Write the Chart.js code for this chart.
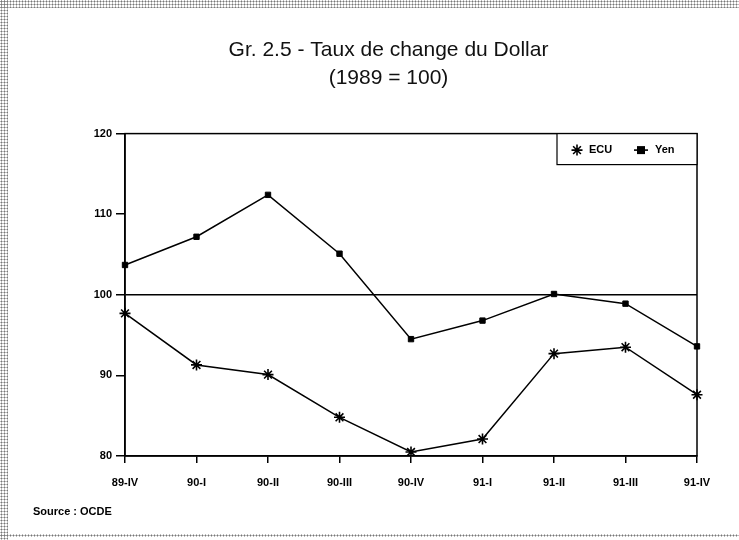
<!DOCTYPE html>
<html>
<head>
<meta charset="utf-8">
<script src="https://cdn.jsdelivr.net/npm/chart.js@4"></script>
<style>
  html, body { margin: 0; padding: 0; background: #fff; }
  body { width: 739px; height: 540px; position: relative; overflow: hidden; }
  .trame { position: absolute; background-image: radial-gradient(#777 0.9px, transparent 1.1px); background-size: 3px 3px; }
  #haut { left: 0; top: 0; width: 739px; height: 8px; }
  #gauche { left: 0; top: 0; width: 8px; height: 540px; }
  #bas { left: 0; top: 534px; width: 739px; height: 3px; }
  canvas { position: absolute; left: 0; top: 0; }
</style>
</head>
<body>
<div class="trame" id="haut"></div>
<div class="trame" id="gauche"></div>
<div class="trame" id="bas"></div>
<canvas id="graphique" width="739" height="540"></canvas>
<script>
// donnees
const trimestres = ['89-IV', '90-I', '90-II', '90-III', '90-IV', '91-I', '91-II', '91-III', '91-IV'];
const ecu = [97.7, 91.3, 90.1, 84.8, 80.5, 82.1, 92.7, 93.5, 87.6];
const yen = [103.7, 107.2, 112.4, 105.1, 94.5, 96.8, 100.1, 98.9, 93.6];
const graduations = [80, 90, 100, 110, 120];

const police = "'Liberation Sans', Arial, Helvetica, sans-serif";

// cadre du graphique + legende encadree + source
const cadre = {
    id: 'cadre',
    afterDraw(chart){
        const ctx = chart.ctx
        const a = chart.chartArea
        ctx.save()
        ctx.strokeStyle = '#000'
        ctx.lineWidth = 1.5
        ctx.strokeRect(a.left, a.top, a.right - a.left, a.bottom - a.top)

        // legende
        const lw = 140, lh = 31
        const lx = a.right - lw, ly = a.top
        ctx.fillStyle = '#fff'
        ctx.fillRect(lx, ly, lw, lh)
        ctx.lineWidth = 1.2
        ctx.strokeRect(lx, ly, lw, lh)
        ctx.fillStyle = '#000'
        ctx.font = "bold 11px " + police
        ctx.textBaseline = 'middle'
        const cy = ly + lh / 2 + 1
        // asterisque ECU
        let mx = lx + 20
        ctx.lineWidth = 1.6
        ctx.beginPath()
        for(let k = 0; k < 4; k++){
            const ang = k * Math.PI / 4
            ctx.moveTo(mx - 5.5 * Math.cos(ang), cy - 5.5 * Math.sin(ang))
            ctx.lineTo(mx + 5.5 * Math.cos(ang), cy + 5.5 * Math.sin(ang))
        }
        ctx.stroke()
        ctx.fillText(chart.data.datasets[0].label, lx + 32, cy)
        // carre Yen
        mx = lx + 84
        ctx.beginPath()
        ctx.moveTo(mx - 7, cy)
        ctx.lineTo(mx + 7, cy)
        ctx.stroke()
        ctx.fillRect(mx - 4, cy - 4, 8, 8)
        ctx.fillText(chart.data.datasets[1].label, lx + 98, cy)

        // source
        ctx.font = "bold 11px " + police
        ctx.textAlign = 'left'
        ctx.fillText('Source : OCDE', 33, 512)
        ctx.restore()
    }
}

const ctx = document.getElementById('graphique').getContext('2d')

new Chart(ctx, {
    type: 'line',
    data: {
        labels: trimestres,
        datasets: [
            {
                label: 'ECU',
                data: ecu,
                borderColor: '#000',
                backgroundColor: '#000',
                borderWidth: 1.5,
                pointStyle: 'star',
                pointRadius: 5.5,
                pointBorderWidth: 1.6,
                tension: 0
            },
            {
                label: 'Yen',
                data: yen,
                borderColor: '#000',
                backgroundColor: '#000',
                borderWidth: 1.5,
                pointStyle: 'rect',
                pointRadius: 3.8,
                pointBorderWidth: 1,
                tension: 0
            }
        ]
    },
    options: {
        responsive: false,
        animation: false,
        layout: { padding: { left: 80, right: 42, top: 0, bottom: 44 } },
        plugins: {
            legend: { display: false },
            tooltip: { enabled: false },
            title: {
                display: true,
                text: ['Gr. 2.5 - Taux de change du Dollar', '(1989 = 100)'],
                color: '#111',
                font: { family: police, size: 21, weight: 'normal', lineHeight: 1.3 },
                padding: { top: 37, bottom: 42 }
            }
        },
        scales: {
            x: {
                offset: false,
                afterFit(scale){ scale.height = 40 },
                grid: { drawOnChartArea: false, tickColor: '#000', tickLength: 7, lineWidth: 1.5 },
                border: { color: '#000', width: 1.5 },
                ticks: {
                    color: '#000',
                    padding: 13,
                    maxRotation: 0,
                    font: { family: police, size: 11, weight: 'bold' }
                }
            },
            y: {
                min: graduations[0],
                max: graduations[graduations.length - 1],
                afterFit(scale){ scale.width = 45 },
                afterBuildTicks(scale){ scale.ticks = graduations.map(v => ({ value: v })) },
                grid: {
                    color: c => (c.tick && c.tick.value === 100) ? '#000' : 'rgba(0,0,0,0)',
                    lineWidth: 1.5,
                    tickColor: '#000',
                    tickLength: 9
                },
                border: { color: '#000', width: 1.5 },
                ticks: {
                    color: '#000',
                    padding: 4,
                    font: { family: police, size: 11, weight: 'bold' }
                }
            }
        }
    },
    plugins: [cadre]
})
</script>
</body>
</html>
